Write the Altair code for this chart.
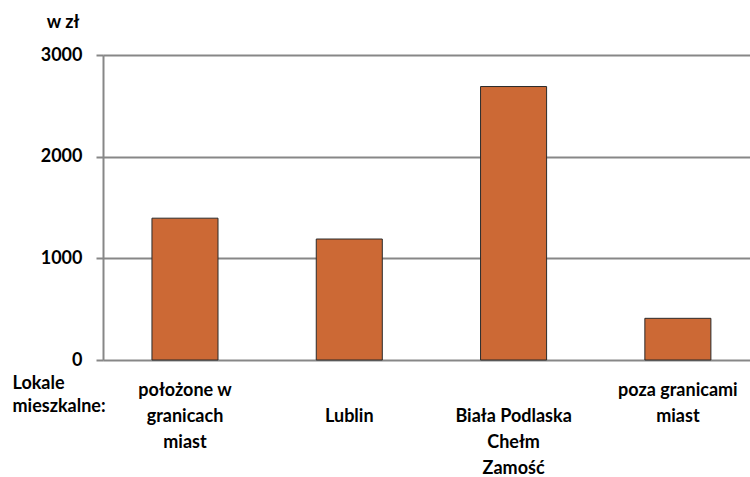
import altair as alt
import pandas as pd

# Average prices (zł) by type of residential location
categories = [
    "położone w|granicach|miast",
    "|Lublin",
    "|Biała Podlaska|Chełm|Zamość",
    "poza granicami|miast",
]
values = [1395, 1190, 2690, 410]

df = pd.DataFrame({"kategoria": categories, "cena": values})

FONT = "Lato"
SIZE = 18
GRID = "#878787"

bars = (
    alt.Chart(df)
    .mark_bar(color="#CC6935", stroke="#2b2b2b", strokeWidth=1)
    .encode(
        x=alt.X(
            "kategoria:N",
            sort=categories,
            scale=alt.Scale(paddingInner=0.598, paddingOuter=0.268, align=0.556),
            axis=alt.Axis(
                title=["Lokale", "mieszkalne:"],
                titleFont=FONT,
                titleFontSize=SIZE,
                titleFontWeight="bold",
                titleColor="#000",
                titleAngle=0,
                titleAlign="left",
                titleBaseline="top",
                titleX=-91,
                titleY=14,
                titleLineHeight=23,
                labelExpr="split(datum.label, '|')",
                labelAngle=0,
                labelFont=FONT,
                labelFontSize=SIZE,
                labelFontWeight="bold",
                labelColor="#000",
                labelLineHeight=26,
                labelBaseline="top",
                labelPadding=21,
                ticks=False,
                domain=False,
            ),
        ),
        y=alt.Y(
            "cena:Q",
            scale=alt.Scale(domain=[0, 3000]),
            axis=alt.Axis(
                title="w zł",
                titleFont=FONT,
                titleFontSize=SIZE,
                titleFontWeight="bold",
                titleColor="#000",
                titleAngle=0,
                titleAlign="right",
                titleBaseline="middle",
                titleX=-24,
                titleY=-33,
                values=[0, 1000, 2000, 3000],
                format="d",
                labelFont=FONT,
                labelFontSize=SIZE,
                labelFontWeight="bold",
                labelColor="#000",
                labelPadding=14,
                tickSize=7,
                tickColor=GRID,
                tickWidth=2,
                domainColor=GRID,
                domainWidth=2,
                gridColor=GRID,
                gridWidth=2,
                gridOpacity=1,
            ),
        ),
    )
)

chart = (
    bars.properties(
        width=647,
        height=305,
        autosize=alt.AutoSizeParams(type="none"),
        padding={"left": 103, "top": 55, "right": 0, "bottom": 117},
    )
    .configure_view(stroke=None)
    .configure(background="white")
)

chart.save("out.html", embed_options={"renderer": "svg", "actions": False})
